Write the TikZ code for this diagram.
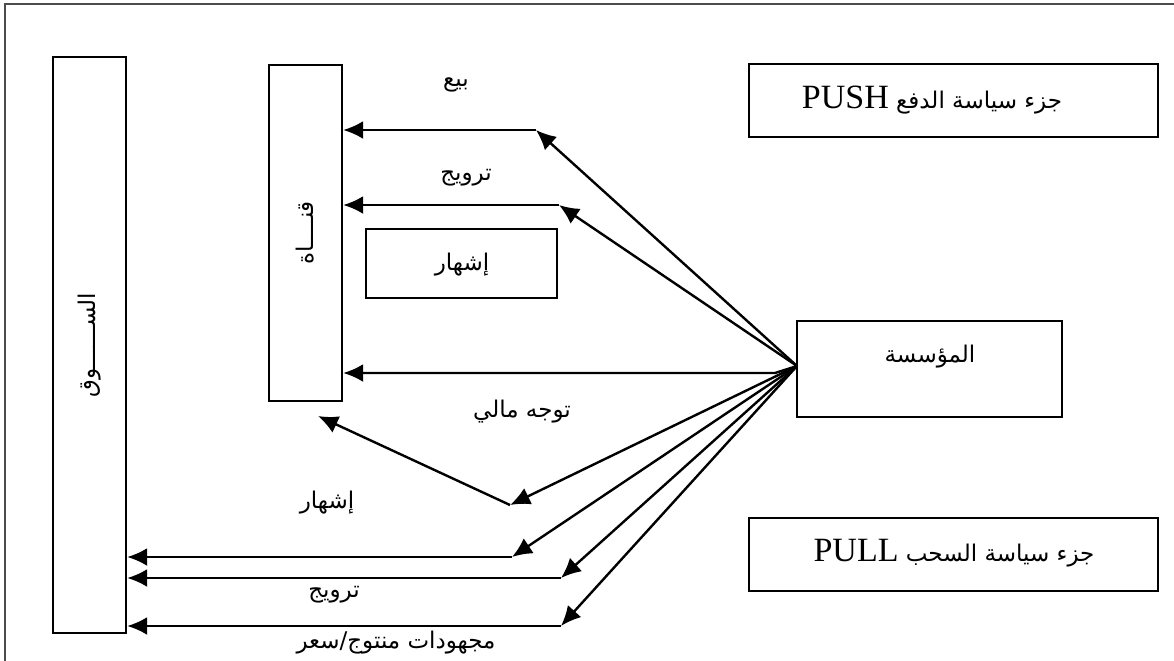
\documentclass[tikz,border=0pt]{standalone}
\usepackage{fontspec}
\setmainfont{Liberation Serif}
\newfontfamily\arabicfont[Script=Arabic]{DejaVu Sans}
\TeXXeTstate=1
\usetikzlibrary{arrows.meta,fit,calc}

% Arabic run, right to left
\newcommand\artext[1]{{\arabicfont\fontsize{11.5}{14}\selectfont\beginR #1\endR}}
% Latin run inside an Arabic line
\newcommand\lattext[1]{\beginL{\rmfamily\fontsize{17}{19}\selectfont #1}\endL}

\begin{document}
\begin{tikzpicture}[x=0.5pt,y=-0.5pt,
  box/.style={draw, line width=1.2pt, inner sep=0pt},
  arr/.style={line width=1.2pt, -{Latex[length=10pt,width=9pt]}},
  lbl/.style={inner sep=0pt}]

\clip (0,0) rectangle (1174,660);
\draw[black!70, line width=0.9pt] (5,4) rectangle (1200,700);

% boxes
\node[box, fit={(53,57) (126,633)}] (market) {};
\node[box, fit={(269,65) (342,401)}] (chan) {};
\node[box, fit={(366,229) (557,298)}] (adv) {};
\node[box, fit={(797,321) (1062,417)}] (firm) {};
\node[box, fit={(749,64) (1158,137)}] (push) {};
\node[box, fit={(749,518) (1158,591)}] (pull) {};

% box texts
\node[lbl, rotate=90] (marketlbl) at (market.center) {\artext{الســــــوق}};
\node[lbl, rotate=90] (chanlbl) at (chan.center) {\artext{قنــــاة}};
\node[lbl] (advlbl) at (462,265) {\artext{إشهار}};
\node[lbl] (firmlbl) at (930,357) {\artext{المؤسسة}};
\node[lbl] (pushlbl) at (932,100) {\artext{جزء سياسة الدفع \lattext{PUSH}}};
\node[lbl] (pulllbl) at (954,553) {\artext{جزء سياسة السحب \lattext{PULL}}};

% arrow labels
\node[lbl] (sell) at (456,85) {\artext{بيع}};
\node[lbl] (promo1) at (466,178) {\artext{ترويج}};
\node[lbl] (fin) at (522,412) {\artext{توجه مالي}};
\node[lbl] (adv2) at (327,503) {\artext{إشهار}};
\node[lbl] (promo2) at (334,595) {\artext{ترويج}};
\node[lbl] (effort) at (396,643) {\artext{مجهودات منتوج/سعر}};

% connectors from the firm
\coordinate (hub) at (797,366);
\coordinate (t1) at (536,130);
\coordinate (t2) at (559,205);
\coordinate (t3) at (775,373);
\coordinate (t4) at (510,505);
\coordinate (t4b) at (318,416);
\coordinate (t5) at (512,557);
\coordinate (t6) at (561,578);
\coordinate (t7) at (561,626);

\draw[arr] (hub) -- (t1);
\draw[arr] (t1) -- (t1 -| chan.east);
\draw[arr] (hub) -- (t2);
\draw[arr] (t2) -- (t2 -| chan.east);
\draw[arr] (hub) -- (t3) -- (t3 -| chan.east);
\draw[arr] (hub) -- (t4);
\draw[arr] (t4) -- (t4b);
\draw[arr] (hub) -- (t5);
\draw[arr] (t5) -- (t5 -| market.east);
\draw[arr] (hub) -- (t6);
\draw[arr] (t6) -- (t6 -| market.east);
\draw[arr] (hub) -- (t7);
\draw[arr] (t7) -- (t7 -| market.east);
\end{tikzpicture}
\end{document}
